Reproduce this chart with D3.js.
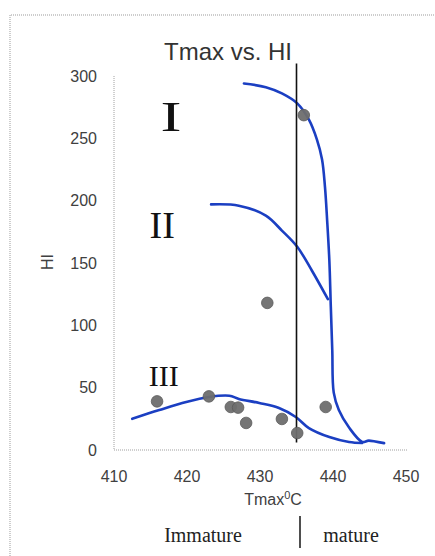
<!DOCTYPE html>
<html><head><meta charset="utf-8">
<script src="https://cdn.jsdelivr.net/npm/d3@7"></script>
<style>body{margin:0;background:#fff}svg{display:block}</style>
</head><body>
<svg id="c" width="435" height="556"></svg>
<script>
// ---- data ----
const xTicks = [410, 420, 430, 440, 450];
const yTicks = [0, 50, 100, 150, 200, 250, 300];
const curveI = [[427.8,294],[430.8,291],[433.0,286],[435.1,278],[436.7,265],[437.8,249],[438.5,233],[438.9,211],[439.2,184],[439.5,152],[439.7,115],[439.9,80],[440.1,46],[440.8,32],[442.2,18],[444.0,6.5],[444.9,7.5],[447.0,5.5]];
const curveII = [[423.3,197],[427.1,196],[430.8,188],[433.0,176],[435.1,163],[437.1,144],[439.3,121]];
const curveIII = [[412.5,25],[416.2,32],[419.9,38.5],[423.0,42.5],[425.8,43.5],[427.1,41],[429.9,37.7],[432.6,33.7],[434.9,26.5],[436.7,17.6],[439.5,10.4],[442.2,6.4],[444.0,5.6]];
const samples = [[436.0,268.6],[431.0,118],[415.9,39],[423.0,43],[426.0,34.5],[427.0,34],[428.1,21.7],[433.0,24.9],[435.1,13.6],[439.0,34.5]];
const boundaryT = 435;
const boundaryHI = [310, 6];
const typeLabels = [
  {text:"I", t:417.8, hi:256, size:42, sx:1.5},
  {text:"II", t:416.6, hi:170, size:38, sx:1},
  {text:"III", t:416.8, hi:51, size:30, sx:1}
];

// ---- drawing ----
const svg = d3.select("#c");
const x = d3.scaleLinear().domain([410, 450]).range([114, 406]);
const y = d3.scaleLinear().domain([0, 300]).range([450, 76]);

// frame
svg.append("path").attr("d","M10,556 L10,15 L435,15")
  .attr("fill","none").attr("stroke","#bdbdbd").attr("stroke-width",1.5).attr("stroke-dasharray","1,1");

// axis lines
svg.append("line").attr("x1",x(410)).attr("x2",x(410)).attr("y1",y(300)).attr("y2",y(0))
  .attr("stroke","#a0a0a0").attr("stroke-width",1).attr("stroke-dasharray","1,1");
svg.append("line").attr("x1",x(410)).attr("x2",408).attr("y1",y(0)).attr("y2",y(0))
  .attr("stroke","#a0a0a0").attr("stroke-width",1.2).attr("stroke-dasharray","1,1");

const sans = "'Liberation Sans', Arial, sans-serif";
const serif = "'Liberation Serif', 'Times New Roman', serif";

svg.append("g").selectAll("text").data(yTicks).join("text")
  .attr("x",97).attr("y",d=>y(d)).attr("dy","0.36em").attr("text-anchor","end")
  .attr("font-family",sans).attr("font-size",16).attr("fill","#404040").text(d=>d);
svg.append("g").selectAll("text").data(xTicks).join("text")
  .attr("x",d=>x(d)).attr("y",482).attr("text-anchor","middle")
  .attr("font-family",sans).attr("font-size",16).attr("fill","#404040").text(d=>d);

// titles
svg.append("text").attr("x",228).attr("y",60).attr("text-anchor","middle")
  .attr("font-family",sans).attr("font-size",24).attr("fill","#333").text("Tmax vs. HI");
const xl = svg.append("text").attr("x",273).attr("y",505).attr("text-anchor","middle")
  .attr("font-family",sans).attr("font-size",16).attr("fill","#404040");
xl.append("tspan").text("Tmax");
xl.append("tspan").attr("font-size",11).attr("dy",-6).text("0");
xl.append("tspan").attr("dy",6).text("C");
svg.append("text").attr("transform","translate(53,262) rotate(-90)").attr("text-anchor","middle")
  .attr("font-family",sans).attr("font-size",16).attr("fill","#404040").text("HI");

// curves
const line = d3.line().x(d=>x(d[0])).y(d=>y(d[1])).curve(d3.curveCatmullRom.alpha(0.5));
[curveI, curveII, curveIII].forEach(c=>{
  svg.append("path").attr("d",line(c)).attr("fill","none")
    .attr("stroke","#1b3fc2").attr("stroke-width",2.6).attr("stroke-linecap","round").attr("stroke-linejoin","round");
});

// boundary line
svg.append("line").attr("x1",x(boundaryT)).attr("x2",x(boundaryT))
  .attr("y1",y(boundaryHI[0])).attr("y2",y(boundaryHI[1]))
  .attr("stroke","#111").attr("stroke-width",1.6);

// sample points
svg.append("g").selectAll("circle").data(samples).join("circle")
  .attr("cx",d=>x(d[0])).attr("cy",d=>y(d[1])).attr("r",5.8)
  .attr("fill","#6e6e6e").attr("stroke","#5a5a5a").attr("stroke-width",0.8).attr("fill-opacity",0.95);

// type labels
svg.append("g").selectAll("text").data(typeLabels).join("text")
  .attr("transform",d=>`translate(${x(d.t)},${y(d.hi)}) scale(${d.sx},1)`)
  .attr("text-anchor","middle").attr("font-family",serif).attr("font-size",d=>d.size)
  .attr("fill","#111").text(d=>d.text);

// maturity labels
svg.append("text").attr("x",203).attr("y",542).attr("text-anchor","middle")
  .attr("font-family",serif).attr("font-size",20).attr("fill","#222").text("Immature");
svg.append("text").attr("x",351).attr("y",542).attr("text-anchor","middle")
  .attr("font-family",serif).attr("font-size",20).attr("fill","#222").text("mature");
svg.append("line").attr("x1",300).attr("x2",300).attr("y1",516).attr("y2",548)
  .attr("stroke","#222").attr("stroke-width",1.6);
</script>
</body></html>
